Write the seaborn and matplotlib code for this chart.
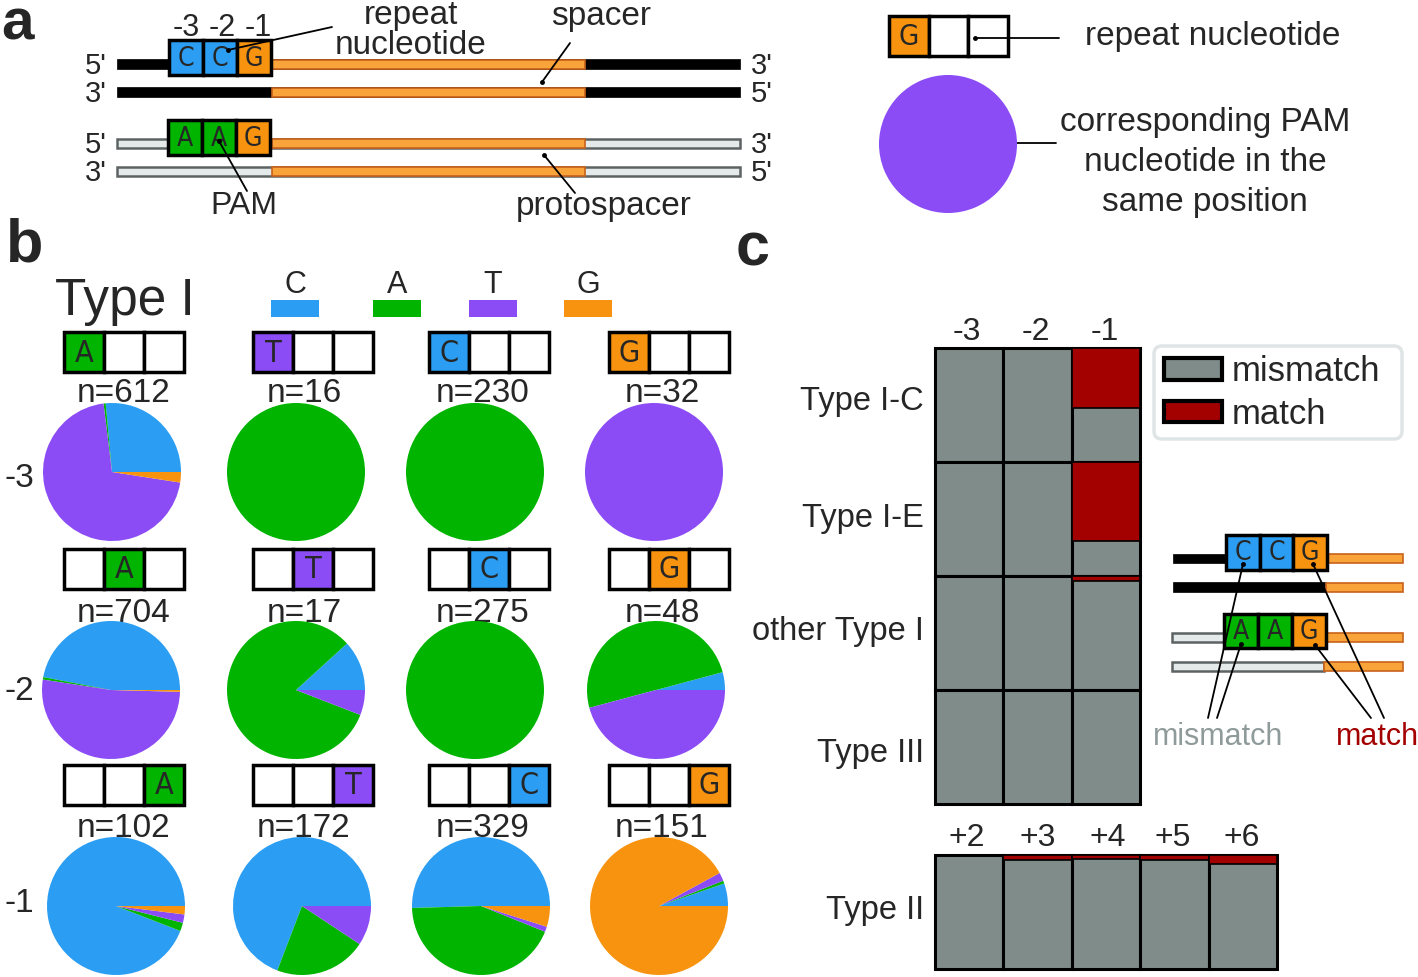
import matplotlib
matplotlib.use("Agg")
import matplotlib.pyplot as plt
from matplotlib.patches import Rectangle, FancyBboxPatch
import seaborn as sns

sns.set_theme(style="white")
plt.rcParams["font.family"] = ["Liberation Sans", "DejaVu Sans"]

W, H = 1418, 977

# nucleotide colours and order used in the pies (counter-clockwise from 3 o'clock)
nucs = ["C", "A", "T", "G"]
nuc_colors = {"C": "#2b9ef3", "A": "#00b400", "T": "#8b4cf6", "G": "#f7930f"}
GRAY = "#7f8c8a"
RED = "#a30000"

# --- panel b data: PAM nucleotide counts (C, A, T, G) per repeat nucleotide ---
positions = ["-3", "-2", "-1"]
repeat_nt = ["A", "T", "C", "G"]
n_counts = [[612, 16, 230, 32],
            [704, 17, 275, 48],
            [102, 172, 329, 151]]
pam_m3 = [[162, 3, 432, 15], [0, 16, 0, 0], [0, 230, 0, 0], [0, 0, 32, 0]]
pam_m2 = [[331, 4, 366, 3], [2, 14, 1, 0], [0, 275, 0, 0], [2, 24, 22, 0]]
pam_m1 = [[96, 2, 2, 2], [119, 37, 16, 0], [166, 143, 4, 16], [8, 1, 3, 139]]
pam_counts = [pam_m3, pam_m2, pam_m1]

# --- panel c data: fraction of matches ---
c_types = ["Type I-C", "Type I-E", "other Type I", "Type III"]
c_pos = ["-3", "-2", "-1"]
match_ic = [0, 0, 0.53]
match_ie = [0, 0, 0.69]
match_other = [0, 0, 0.045]
match_iii = [0, 0, 0]
c_match = [match_ic, match_ie, match_other, match_iii]
t2_pos = ["+2", "+3", "+4", "+5", "+6"]
match_ii = [0, 0.045, 0.035, 0.045, 0.075]

fig = plt.figure(figsize=(W / 100, H / 100), dpi=100)
ax = fig.add_axes([0, 0, 1, 1])
ax.set_xlim(0, W)
ax.set_ylim(H, 0)
ax.axis("off")


def label(x, y, s, size, ha="center", **kw):
    ax.text(x, y, s, fontsize=size, ha=ha, va="baseline", **kw)


def strand(x0, x1, y, kind, h=10):
    if kind == "black":
        fc, ec, lw = "black", "black", 0.5
    elif kind == "orange":
        fc, ec, lw = "#f9a33b", "#c8621a", 1.2
    else:
        fc, ec, lw = "#e4e9e9", "#5d6262", 1.8
    ax.add_patch(Rectangle((x0, y - h / 2), x1 - x0, h, fc=fc, ec=ec, lw=lw, zorder=2))


def nt_box(x0, y0, cw, h, letters, size, lw=2.5):
    for i, s in enumerate(letters):
        fc = nuc_colors[s] if s else "white"
        ax.add_patch(Rectangle((x0 + i * cw, y0), cw, h, fc=fc, ec="black", lw=lw, zorder=3))
        if s:
            ax.text(x0 + (i + 0.5) * cw, y0 + h / 2 + 1, s, fontsize=size, ha="center",
                    va="center", family="DejaVu Sans", fontstretch="condensed", zorder=4)


def pointer(x0, y0, x1, y1):
    ax.plot([x0, x1], [y0, y1], color="black", lw=1.3, zorder=5)
    ax.plot([x0], [y0], "o", color="black", ms=2.5, zorder=5)


def pie_at(cx, cy, r, values):
    pax = fig.add_axes([(cx - r) / W, 1 - (cy + r) / H, 2 * r / W, 2 * r / H])
    pax.pie(values, colors=[nuc_colors[n] for n in nucs], startangle=0, counterclock=True,
            wedgeprops=dict(linewidth=0))
    pax.set_xlim(-1, 1)
    pax.set_ylim(-1, 1)
    pax.axis("off")


# ---------------- panel a ----------------
ax.text(1, 39, "a", fontsize=42, fontweight="bold", va="baseline")
for y, kind in [(64, "black"), (92, "black"), (143, "grey"), (171, "grey")]:
    strand(117, 740, y, kind, h=10 if kind == "black" else 9)
    strand(272, 585, y, "orange", h=9)
nt_box(169, 40, 34, 35, ["C", "C", "G"], 19)
nt_box(168, 120, 34, 35, ["A", "A", "G"], 19)
for x, s in zip([186, 222, 258], positions):
    label(x, 36, s, 22)
for y, s in [(64, "5'"), (92, "3'"), (143, "5'"), (171, "3'")]:
    label(96, y + 10, s, 21)
for y, s in [(64, "3'"), (92, "5'"), (143, "3'"), (171, "5'")]:
    label(762, y + 10, s, 21)
label(411, 24, "repeat", 24)
label(411, 54, "nucleotide", 24)
pointer(228, 50, 332, 27)
label(601, 25, "spacer", 24)
pointer(542, 82, 570, 43)
label(244, 214, "PAM", 23)
pointer(219, 141, 247, 191)
label(604, 215, "protospacer", 24)
pointer(544, 155, 575, 193)

# legend of panel a
nt_box(889, 16, 39.5, 40, ["G", "", ""], 21)
pointer(975, 38, 1059, 38)
label(1213, 45, "repeat nucleotide", 24)
pie_at(948, 144, 69, [0, 0, 1, 0])
pointer(972, 143, 1056, 143)
label(1205, 131, "corresponding PAM", 24)
label(1205, 171, "nucleotide in the", 24)
label(1205, 211, "same position", 24)

# ---------------- panel b ----------------
ax.text(6, 262, "b", fontsize=44, fontweight="bold", va="baseline")
label(55, 315, "Type I", 37, ha="left")
leg_x = [295, 397, 493, 588]
for x, s in zip(leg_x, nucs):
    label(x, 293, s, 22)
    ax.add_patch(Rectangle((x - 24, 300), 48, 17, fc=nuc_colors[s], ec="none"))

box_left = [64, 253, 429, 609]
box_top = [332, 549, 765]
n_x = [124, 304, 483, 662]
n_base = [402, 622, 837]
pie_x = [[112, 296, 475, 654], [111, 296, 475, 656], [116, 302, 481, 659]]
pie_y = [472, 690, 906]
row_base = [487, 700, 912]
for r in range(3):
    label(19, row_base[r], positions[r], 24)
    for c in range(4):
        letters = ["", "", ""]
        letters[r] = repeat_nt[c]
        nt_box(box_left[c], box_top[r], 40, 40, letters, 22)
        label(n_x[c], n_base[r], f"n={n_counts[r][c]}", 24)
        pie_at(pie_x[r][c], pie_y[r], 69, pam_counts[r][c])

# ---------------- panel c ----------------
ax.text(736, 265, "c", fontsize=44, fontweight="bold", va="baseline")


def cell_row(x0, y0, w, h, labels, match):
    cax = fig.add_axes([x0 / W, 1 - (y0 + h) / H, w / W, h / H])
    sns.barplot(x=labels, y=[1] * len(labels), color=GRAY, width=1, saturation=1,
                edgecolor="black", linewidth=2.2, errorbar=None, ax=cax)
    sns.barplot(x=labels, y=match, color=RED, width=1, saturation=1,
                edgecolor="black", linewidth=1.2, errorbar=None, ax=cax)
    cax.set_ylim(1, 0)
    cax.set_xlim(-0.5, len(labels) - 0.5)
    for p in cax.patches:
        p.set_clip_on(False)
    cax.axis("off")


col_x = [967, 1036, 1105]
for x, s in zip(col_x, c_pos):
    label(x, 340, s, 23)
row_y = [410, 527, 640, 762]
for i, t in enumerate(c_types):
    label(924, row_y[i], t, 23.5, ha="right")
    cell_row(935, 348 + 114 * i, 205, 114, c_pos, c_match[i])

t2_x = [967, 1038, 1108, 1173, 1242]
for x, s in zip(t2_x, t2_pos):
    label(x, 846, s, 23)
label(924, 919, "Type II", 23.5, ha="right")
cell_row(935, 855, 342, 114, t2_pos, match_ii)

# legend of panel c
ax.add_patch(FancyBboxPatch((1154, 346), 248, 93, boxstyle="round,pad=0,rounding_size=8",
                            fc="white", ec="#dfe5e5", lw=2.5))
ax.add_patch(Rectangle((1164, 358), 58, 22, fc=GRAY, ec="black", lw=3))
ax.add_patch(Rectangle((1164, 401), 58, 21, fc=RED, ec="black", lw=3))
label(1232, 381, "mismatch", 25, ha="left")
label(1232, 424, "match", 25, ha="left")

# small diagram of panel c
strand(1173, 1227, 558, "black", h=9)
strand(1327, 1403, 558, "orange", h=9)
strand(1173, 1326, 587, "black", h=10)
strand(1326, 1403, 587, "orange", h=9)
strand(1172, 1225, 637, "grey", h=9)
strand(1326, 1403, 637, "orange", h=9)
strand(1172, 1324, 666, "grey", h=9)
strand(1324, 1403, 666, "orange", h=9)
nt_box(1226, 535, 33.7, 35, ["C", "C", "G"], 19)
nt_box(1224, 614, 34, 34, ["A", "A", "G"], 19)
pointer(1243, 564, 1208, 718)
pointer(1241, 644, 1217, 718)
pointer(1313, 564, 1384, 718)
pointer(1315, 645, 1371, 718)
label(1218, 745, "mismatch", 22, color="#8f9a9a")
label(1378, 745, "match", 22, color=RED)

fig.savefig("out.png", dpi=100)
